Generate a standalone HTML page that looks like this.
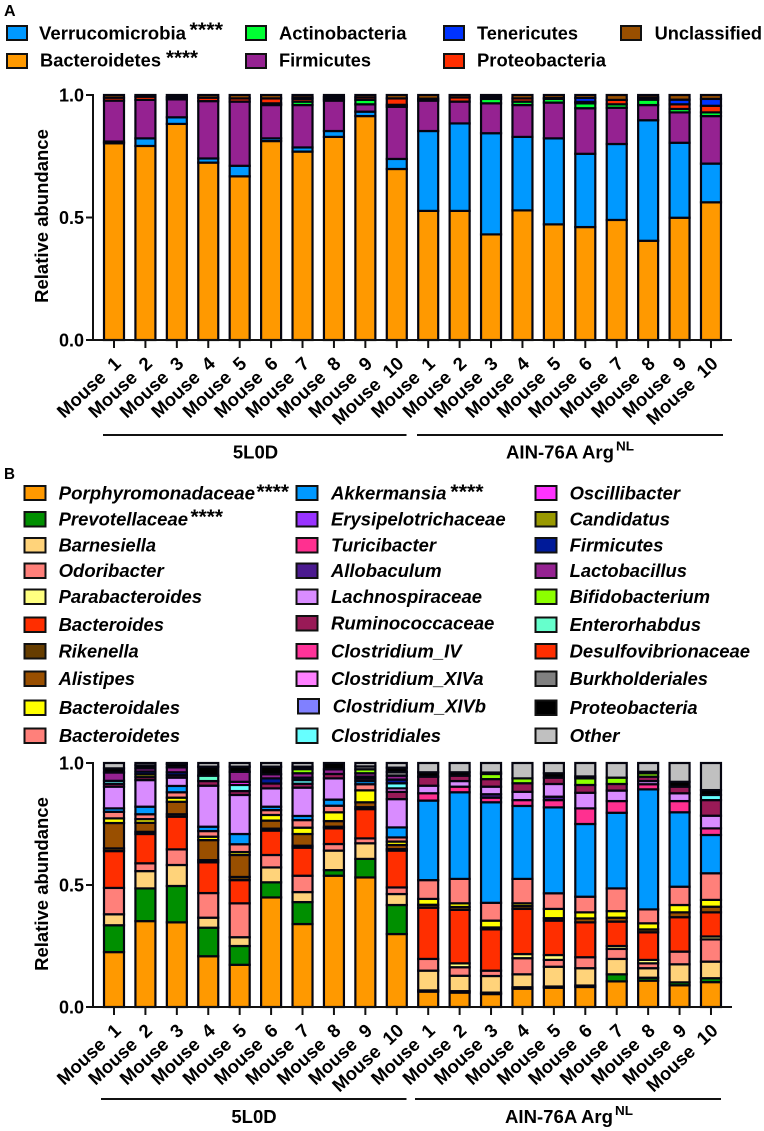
<!DOCTYPE html>
<html lang="en">
<head>
<meta charset="utf-8">
<title>Relative abundance of gut microbiota</title>
<style>
html,body{margin:0;padding:0;background:#fff}
svg{display:block}
text{font-family:"Liberation Sans",Arial,sans-serif;font-weight:700;fill:#000}
.lg{font-size:18.5px}
.it{font-style:italic}
.st{font-size:20px}
.sw{stroke:#111;stroke-width:2}
</style>
</head>
<body>
<svg id="fig" xmlns="http://www.w3.org/2000/svg" width="764" height="1131" viewBox="0 0 764 1131">
<text x="4" y="16" font-size="15.5" textLength="11.6" lengthAdjust="spacingAndGlyphs">A</text>
<text x="4" y="479" font-size="15.5" textLength="11" lengthAdjust="spacingAndGlyphs">B</text>

<g>
<g><rect class="sw" x="7" y="26" width="20" height="14" fill="#0099ff"/><text class="lg" x="39" y="39.5" textLength="147" lengthAdjust="spacingAndGlyphs">Verrucomicrobia</text><text class="st" x="189.5" y="36.5" textLength="33.5" lengthAdjust="spacingAndGlyphs">****</text></g>
<g><rect class="sw" x="7" y="54" width="20" height="14" fill="#ff9900"/><text class="lg" x="40" y="66.5" textLength="121" lengthAdjust="spacingAndGlyphs">Bacteroidetes</text><text class="st" x="166" y="64.5" textLength="32" lengthAdjust="spacingAndGlyphs">****</text></g>
<g><rect class="sw" x="246" y="26" width="20" height="14" fill="#00ff33"/><text class="lg" x="279" y="39.5" textLength="127.5" lengthAdjust="spacingAndGlyphs">Actinobacteria</text></g>
<g><rect class="sw" x="246" y="54" width="20" height="14" fill="#952291"/><text class="lg" x="279" y="66.5" textLength="92" lengthAdjust="spacingAndGlyphs">Firmicutes</text></g>
<g><rect class="sw" x="444" y="26" width="20" height="14" fill="#0033ff"/><text class="lg" x="477" y="39.5" textLength="101" lengthAdjust="spacingAndGlyphs">Tenericutes</text></g>
<g><rect class="sw" x="444" y="54" width="20" height="14" fill="#ff2e00"/><text class="lg" x="477" y="66.5" textLength="129" lengthAdjust="spacingAndGlyphs">Proteobacteria</text></g>
<g><rect class="sw" x="621" y="26" width="20" height="14" fill="#994f00"/><text class="lg" x="654.6" y="39.5" textLength="107.4" lengthAdjust="spacingAndGlyphs">Unclassified</text></g>
</g>

<g>
<g><rect class="sw" x="24.5" y="486" width="21" height="14" fill="#ff9900"/><text class="lg it" x="58.6" y="499.5" textLength="196.4" lengthAdjust="spacingAndGlyphs">Porphyromonadaceae</text><text class="st" x="256.5" y="498.5" textLength="32.5" lengthAdjust="spacingAndGlyphs">****</text></g>
<g><rect class="sw" x="24.5" y="512" width="21" height="14.5" fill="#008f00"/><text class="lg it" x="58.6" y="525.5" textLength="129.4" lengthAdjust="spacingAndGlyphs">Prevotellaceae</text><text class="st" x="190.5" y="523.5" textLength="32.5" lengthAdjust="spacingAndGlyphs">****</text></g>
<g><rect class="sw" x="24.5" y="538" width="21" height="14.5" fill="#ffd37a"/><text class="lg it" x="58.6" y="551.5" textLength="97.4" lengthAdjust="spacingAndGlyphs">Barnesiella</text></g>
<g><rect class="sw" x="24.5" y="563.5" width="21" height="14.5" fill="#ff807a"/><text class="lg it" x="58.6" y="577" textLength="105.1" lengthAdjust="spacingAndGlyphs">Odoribacter</text></g>
<g><rect class="sw" x="24.5" y="589.5" width="21" height="14.5" fill="#ffff80"/><text class="lg it" x="58.6" y="603" textLength="143.4" lengthAdjust="spacingAndGlyphs">Parabacteroides</text></g>
<g><rect class="sw" x="24.5" y="617.5" width="21" height="14.5" fill="#ff2e00"/><text class="lg it" x="58.6" y="631" textLength="105.4" lengthAdjust="spacingAndGlyphs">Bacteroides</text></g>
<g><rect class="sw" x="24.5" y="644" width="21" height="14.5" fill="#663d00"/><text class="lg it" x="58.6" y="657.5" textLength="80.1" lengthAdjust="spacingAndGlyphs">Rikenella</text></g>
<g><rect class="sw" x="24.5" y="671.5" width="21" height="14.5" fill="#994f00"/><text class="lg it" x="58.6" y="685" textLength="76.4" lengthAdjust="spacingAndGlyphs">Alistipes</text></g>
<g><rect class="sw" x="24.5" y="700.5" width="21" height="14.5" fill="#ffff00"/><text class="lg it" x="59" y="714" textLength="121" lengthAdjust="spacingAndGlyphs">Bacteroidales</text></g>
<g><rect class="sw" x="24.5" y="728.5" width="21" height="14.5" fill="#ff807a"/><text class="lg it" x="59" y="742" textLength="121" lengthAdjust="spacingAndGlyphs">Bacteroidetes</text></g>

<g><rect class="sw" x="296.5" y="486" width="21" height="14" fill="#0099ff"/><text class="lg it" x="331" y="499.5" textLength="115.5" lengthAdjust="spacingAndGlyphs">Akkermansia</text><text class="st" x="450.4" y="498.5" textLength="33.2" lengthAdjust="spacingAndGlyphs">****</text></g>
<g><rect class="sw" x="296.5" y="512" width="21" height="14.5" fill="#9933ff"/><text class="lg it" x="331" y="525.5" textLength="174.6" lengthAdjust="spacingAndGlyphs">Erysipelotrichaceae</text></g>
<g><rect class="sw" x="296.5" y="538" width="21" height="14.5" fill="#ff3090"/><text class="lg it" x="331" y="551.5" textLength="105" lengthAdjust="spacingAndGlyphs">Turicibacter</text></g>
<g><rect class="sw" x="296.5" y="563.5" width="21" height="14.5" fill="#4b1a8f"/><text class="lg it" x="331" y="577" textLength="110.6" lengthAdjust="spacingAndGlyphs">Allobaculum</text></g>
<g><rect class="sw" x="296.5" y="589.5" width="21" height="14.5" fill="#d98cff"/><text class="lg it" x="331" y="603" textLength="151" lengthAdjust="spacingAndGlyphs">Lachnospiraceae</text></g>
<g><rect class="sw" x="296.5" y="616" width="21" height="14.5" fill="#991a57"/><text class="lg it" x="331" y="629.5" textLength="163.4" lengthAdjust="spacingAndGlyphs">Ruminococcaceae</text></g>
<g><rect class="sw" x="296.5" y="644" width="21" height="14.5" fill="#ff3399"/><text class="lg it" x="331" y="657.5" textLength="130.6" lengthAdjust="spacingAndGlyphs">Clostridium_IV</text></g>
<g><rect class="sw" x="296.5" y="671.5" width="21" height="14.5" fill="#ff80ff"/><text class="lg it" x="331" y="685" textLength="152.6" lengthAdjust="spacingAndGlyphs">Clostridium_XIVa</text></g>
<g><rect class="sw" x="298" y="699" width="21" height="14.5" fill="#8080ff"/><text class="lg it" x="332.7" y="712.5" textLength="153.3" lengthAdjust="spacingAndGlyphs">Clostridium_XIVb</text></g>
<g><rect class="sw" x="296.5" y="728.5" width="21" height="14.5" fill="#66ffff"/><text class="lg it" x="331" y="742" textLength="110" lengthAdjust="spacingAndGlyphs">Clostridiales</text></g>

<g><rect class="sw" x="535.5" y="486" width="21" height="14" fill="#ff33ff"/><text class="lg it" x="569.6" y="499.5" textLength="110.4" lengthAdjust="spacingAndGlyphs">Oscillibacter</text></g>
<g><rect class="sw" x="535.5" y="512" width="21" height="14.5" fill="#999900"/><text class="lg it" x="569.6" y="525.5" textLength="100.4" lengthAdjust="spacingAndGlyphs">Candidatus</text></g>
<g><rect class="sw" x="535.5" y="538" width="21" height="14.5" fill="#001a99"/><text class="lg it" x="569.6" y="551.5" textLength="93.8" lengthAdjust="spacingAndGlyphs">Firmicutes</text></g>
<g><rect class="sw" x="535.5" y="563.5" width="21" height="14.5" fill="#952291"/><text class="lg it" x="569.6" y="577" textLength="117.4" lengthAdjust="spacingAndGlyphs">Lactobacillus</text></g>
<g><rect class="sw" x="535.5" y="589.5" width="21" height="14.5" fill="#8cff00"/><text class="lg it" x="569.6" y="603" textLength="140.4" lengthAdjust="spacingAndGlyphs">Bifidobacterium</text></g>
<g><rect class="sw" x="535.5" y="617.5" width="21" height="14.5" fill="#66ffcc"/><text class="lg it" x="569.6" y="631" textLength="131.4" lengthAdjust="spacingAndGlyphs">Enterorhabdus</text></g>
<g><rect class="sw" x="535.5" y="644" width="21" height="14.5" fill="#ff2e00"/><text class="lg it" x="569.6" y="657.5" textLength="180.4" lengthAdjust="spacingAndGlyphs">Desulfovibrionaceae</text></g>
<g><rect class="sw" x="535.5" y="671.5" width="21" height="14.5" fill="#808080"/><text class="lg it" x="569.6" y="685" textLength="138.4" lengthAdjust="spacingAndGlyphs">Burkholderiales</text></g>
<g><rect class="sw" x="535.5" y="700.5" width="21" height="14.5" fill="#000000"/><text class="lg it" x="569.6" y="714" textLength="128" lengthAdjust="spacingAndGlyphs">Proteobacteria</text></g>
<g><rect class="sw" x="535.5" y="728.5" width="21" height="14.5" fill="#c0c0c0"/><text class="lg it" x="569.6" y="742" textLength="49.8" lengthAdjust="spacingAndGlyphs">Other</text></g>
</g>

<g>
<line x1="103" y1="435" x2="406.5" y2="435" stroke="#111" stroke-width="2"/>
<line x1="417" y1="435" x2="723" y2="435" stroke="#111" stroke-width="2"/>
<text x="255.5" y="458.5" font-size="18.5" text-anchor="middle">5L0D</text>
<text x="506" y="458.5" font-size="18.5" textLength="108" lengthAdjust="spacingAndGlyphs">AIN-76A Arg</text>
<text x="616" y="450.5" font-size="13" textLength="18" lengthAdjust="spacingAndGlyphs">NL</text>
<line x1="101" y1="1099" x2="406.5" y2="1099" stroke="#111" stroke-width="2"/>
<line x1="415" y1="1099" x2="721" y2="1099" stroke="#111" stroke-width="2"/>
<text x="254" y="1123" font-size="18.5" text-anchor="middle">5L0D</text>
<text x="505" y="1123" font-size="18.5" textLength="108" lengthAdjust="spacingAndGlyphs">AIN-76A Arg</text>
<text x="615" y="1115" font-size="13" textLength="18" lengthAdjust="spacingAndGlyphs">NL</text>
</g>
</svg>

<script>
const categories = ["Mouse  1","Mouse  2","Mouse  3","Mouse  4","Mouse  5","Mouse  6","Mouse  7","Mouse  8","Mouse  9","Mouse  10","Mouse  1","Mouse  2","Mouse  3","Mouse  4","Mouse  5","Mouse  6","Mouse  7","Mouse  8","Mouse  9","Mouse  10"];
const yTicks = [0, 0.5, 1];
const yTickLabels = ["0.0", "0.5", "1.0"];

/* Panel A: phylum level, stacked bottom to top */
const aBacteroidetes = [.803,.792,.882,.724,.668,.812,.769,.829,.914,.698,.527,.527,.431,.529,.472,.461,.490,.405,.499,.562];
const aVerrucomicrobia = [.007,.031,.027,.017,.043,.011,.017,.024,.018,.041,.326,.357,.413,.30,.351,.299,.31,.492,.306,.158];
const aFirmicutes = [.167,.157,.073,.234,.262,.136,.173,.124,.03,.213,.124,.089,.122,.13,.146,.186,.148,.062,.124,.194];
const aActinobacteria = [0,0,0,0,0,.007,.014,.007,.018,.008,0,0,.018,.014,.015,.02,.014,.022,.014,.015];
const aProteobacteria = [.012,.013,.009,.014,.013,.02,.011,.008,.01,.026,.008,.017,.008,.013,.004,.006,.018,.009,.019,.027];
const aTenericutes = [0,0,0,0,0,0,.006,0,0,0,0,0,0,0,0,.016,0,0,.019,.028];
const aUnclassified = [.011,.007,.009,.011,.014,.014,.01,.008,.01,.014,.015,.01,.008,.014,.012,.012,.02,.01,.019,.016];
const seriesA = [aBacteroidetes,aVerrucomicrobia,aFirmicutes,aActinobacteria,aProteobacteria,aTenericutes,aUnclassified];
const namesA = ["bacteroidetes","verrucomicrobia","firmicutes","actinobacteria","proteobacteria","tenericutes","unclassified"];
const colorsA = ["#ff9900","#0099ff","#952291","#00ff33","#ff2e00","#0033ff","#994f00"];

/* Panel B: genus level, stacked bottom to top */
const bPorphyromonadaceae = [.225,.352,.347,.208,.173,.449,.34,.538,.531,.299,.063,.059,.053,.075,.079,.082,.105,.108,.089,.102];
const bPrevotellaceae = [.11,.134,.149,.117,.077,.062,.09,.023,.076,.119,.005,.006,.006,.006,.005,.006,.029,.012,.012,.016];
const bBarnesiella = [.045,.071,.086,.041,.036,.061,.041,.08,.064,.045,.081,.063,.068,.053,.081,.071,.063,.039,.074,.068];
const bOdoribacter = [.108,.032,.064,.101,.139,.051,.067,.027,.02,.027,.048,.035,.022,.066,.028,.045,.041,.02,.052,.091];
const bParabacteroides = [0,0,0,0,0,0,0,0,0,0,0,.016,0,.017,.02,0,.012,.014,0,.012];
const bBacteroides = [.151,.12,.134,.126,.095,.10,.115,.064,.12,.151,.21,.219,.169,.185,.141,.143,.10,.113,.141,.099];
const bRikenella = [.011,.009,.01,.009,.013,.008,.008,.007,.008,.006,.012,.012,.008,.012,.01,0,0,.012,0,0];
const bAlistipes = [.104,.037,.051,.082,.09,.033,.048,.023,.02,.017,0,0,0,0,0,.016,.016,0,.02,.023];
const bBacteroidales = [.019,.015,.017,.014,.012,.023,.026,.036,.049,.014,.024,.015,.028,.011,.038,.025,.027,.025,.03,.028];
const bBacteroidetes = [.027,.02,.022,.023,.032,.02,.031,.027,.025,.017,.077,.10,.073,.10,.064,.064,.093,.057,.075,.109];
const bAkkermansia = [.014,.031,.026,.018,.042,.014,.017,.025,.013,.041,.326,.355,.412,.299,.352,.298,.31,.492,.305,.157];
const bErysipelotrichaceae = [0,0,0,0,0,0,0,0,0,0,0,0,0,0,0,0,0,0,0,0];
const bTuricibacter = [0,0,0,0,0,0,0,0,0,0,.03,.023,.019,.024,.03,.064,.048,.021,.046,.027];
const bAllobaculum = [0,0,0,0,0,0,0,0,0,0,0,0,.014,0,.014,0,0,0,0,0];
const bLachnospiraceae = [.089,.109,.034,.168,.16,.075,.116,.087,0,.116,.031,.023,.031,.034,.052,.064,.043,.013,.032,.052];
const bRuminococcaceae = [.012,.012,.01,.019,.016,.02,.016,.018,.01,.03,.037,.022,.031,.035,.026,.032,.027,.018,.027,.064];
const bClostridiumIV = [0,0,0,0,0,0,0,0,0,0,0,0,0,0,0,0,0,0,0,0];
const bClostridiumXIVa = [0,0,0,0,0,0,0,0,0,.014,0,0,0,0,0,0,0,0,0,0];
const bClostridiumXIVb = [0,0,0,0,0,0,0,0,0,0,0,0,0,0,0,0,0,0,0,0];
const bClostridiales = [.012,0,0,0,.025,0,.015,0,0,.021,0,0,0,0,0,0,0,0,0,.021];
const bOscillibacter = [0,0,0,0,.013,0,0,0,0,0,0,0,0,0,0,0,0,0,0,0];
const bCandidatus = [0,.012,0,0,0,0,0,0,0,0,0,0,0,0,0,0,0,0,0,0];
const bFirmicutes = [0,.011,.012,0,0,.021,.01,0,.008,.015,0,0,0,0,0,0,0,0,0,0];
const bLactobacillus = [.034,.013,.02,0,.041,.017,.018,.019,.014,.016,0,0,0,0,0,0,0,0,0,0];
const bBifidobacterium = [0,0,0,0,0,0,.017,0,.016,0,0,0,.021,.02,0,.027,.026,.014,0,0];
const bEnterorhabdus = [0,0,0,.022,0,0,0,0,0,0,0,0,0,0,0,0,0,0,0,0];
const bDesulfovibrionaceae = [0,0,0,0,0,0,0,0,0,0,0,0,0,0,0,0,0,0,0,0];
const bBurkholderiales = [0,0,0,0,0,0,0,0,.012,.015,0,0,0,0,0,.008,0,0,0,0];
const bProteobacteria = [.017,.012,.014,.037,.021,.031,.01,.026,0,.018,.018,.014,.006,0,.018,0,0,.006,.02,.02];
const bOther = [.022,.01,.004,.015,.015,.015,.015,0,.014,.019,.038,.038,.039,.063,.042,.055,.06,.036,.077,.111];
const seriesB = [bPorphyromonadaceae,bPrevotellaceae,bBarnesiella,bOdoribacter,bParabacteroides,bBacteroides,bRikenella,bAlistipes,bBacteroidales,bBacteroidetes,bAkkermansia,bErysipelotrichaceae,bTuricibacter,bAllobaculum,bLachnospiraceae,bRuminococcaceae,bClostridiumIV,bClostridiumXIVa,bClostridiumXIVb,bClostridiales,bOscillibacter,bCandidatus,bFirmicutes,bLactobacillus,bBifidobacterium,bEnterorhabdus,bDesulfovibrionaceae,bBurkholderiales,bProteobacteria,bOther];
const namesB = ["porphyromonadaceae","prevotellaceae","barnesiella","odoribacter","parabacteroides","bacteroides","rikenella","alistipes","bacteroidales","bacteroidetes","akkermansia","erysipelotrichaceae","turicibacter","allobaculum","lachnospiraceae","ruminococcaceae","clostridium-iv","clostridium-xiva","clostridium-xivb","clostridiales","oscillibacter","candidatus","firmicutes","lactobacillus","bifidobacterium","enterorhabdus","desulfovibrionaceae","burkholderiales","proteobacteria","other"];
const colorsB = ["#ff9900","#008f00","#ffd37a","#ff807a","#ffff80","#ff2e00","#663d00","#994f00","#ffff00","#ff807a","#0099ff","#9933ff","#ff3090","#4b1a8f","#d98cff","#991a57","#ff3399","#ff80ff","#8080ff","#66ffff","#ff33ff","#999900","#001a99","#952291","#8cff00","#66ffcc","#ff2e00","#808080","#000000","#c0c0c0"];

const NS = "http://www.w3.org/2000/svg";
const fig = document.getElementById("fig");

function xScale(i) { return 114 + i * 31.42; }
function yScaleA(v) { return 340 - 245 * v; }
function yScaleB(v) { return 1007 - 244 * v; }

function make(tag, parent) {
  const el = document.createElementNS(NS, tag);
  parent.appendChild(el);
  return el;
}

function drawPanel(prefix, yScale, series, names, colors, titleMid) {
  const root = make("g", fig);
  
  

  categories.forEach(function (cat, i) {
    const barGroup = make("g", root);
    
    
    let cum = 0;
    series.forEach(function (arr, s) {
      const v = arr[i];
      if (!v) return;
      const rect = make("rect", barGroup);
      
      
      const top = yScale(cum + v);
      const bottom = yScale(cum);
      rect.setAttribute("x", xScale(i) - 10);
      rect.setAttribute("y", top);
      rect.setAttribute("width", 20);
      rect.setAttribute("height", bottom - top);
      rect.setAttribute("fill", colors[s]);
      rect.setAttribute("stroke", "#050510");
      rect.setAttribute("stroke-width", 2.2);
      cum += v;
    });
  });

  const yAxis = make("line", root);
  
  
  yAxis.setAttribute("x1", 93);
  yAxis.setAttribute("x2", 93);
  yAxis.setAttribute("y1", yScale(1) - 1);
  yAxis.setAttribute("y2", yScale(0) + 1);
  yAxis.setAttribute("stroke", "#111");
  yAxis.setAttribute("stroke-width", 2);

  const xAxis = make("line", root);
  
  
  xAxis.setAttribute("x1", 92);
  xAxis.setAttribute("x2", 732);
  xAxis.setAttribute("y1", yScale(0));
  xAxis.setAttribute("y2", yScale(0));
  xAxis.setAttribute("stroke", "#111");
  xAxis.setAttribute("stroke-width", 2);

  yTicks.forEach(function (t, k) {
    const tick = make("line", root);
    
    
    tick.setAttribute("x1", 86);
    tick.setAttribute("x2", 93);
    tick.setAttribute("y1", yScale(t));
    tick.setAttribute("y2", yScale(t));
    tick.setAttribute("stroke", "#111");
    tick.setAttribute("stroke-width", 2);
    const label = make("text", root);
    
    
    label.setAttribute("x", 84);
    label.setAttribute("y", yScale(t) + 6.5);
    label.setAttribute("font-size", 18);
    label.setAttribute("text-anchor", "end");
    label.textContent = yTickLabels[k];
  });

  categories.forEach(function (cat, i) {
    const tick = make("line", root);
    
    
    tick.setAttribute("x1", xScale(i));
    tick.setAttribute("x2", xScale(i));
    tick.setAttribute("y1", yScale(0));
    tick.setAttribute("y2", yScale(0) + 8);
    tick.setAttribute("stroke", "#111");
    tick.setAttribute("stroke-width", 2);
    const label = make("text", root);
    
    
    const lx = xScale(i) + 8;
    const ly = yScale(0) + 25;
    label.setAttribute("x", lx);
    label.setAttribute("y", ly);
    label.setAttribute("font-size", 18.5);
    label.setAttribute("text-anchor", "end");
    label.setAttribute("transform", "rotate(-43 " + lx + " " + ly + ")");
    label.setAttribute("xml:space", "preserve");
    label.style.whiteSpace = "pre";
    label.textContent = cat;
  });

  const title = make("text", root);
  
  
  title.setAttribute("font-size", 18.5);
  title.setAttribute("text-anchor", "middle");
  title.setAttribute("transform", "translate(48 " + titleMid + ") rotate(-90)");
  title.textContent = "Relative abundance";
}

drawPanel("panel-a", yScaleA, seriesA, namesA, colorsA, 216);
drawPanel("panel-b", yScaleB, seriesB, namesB, colorsB, 884);
</script>
</body>
</html>
